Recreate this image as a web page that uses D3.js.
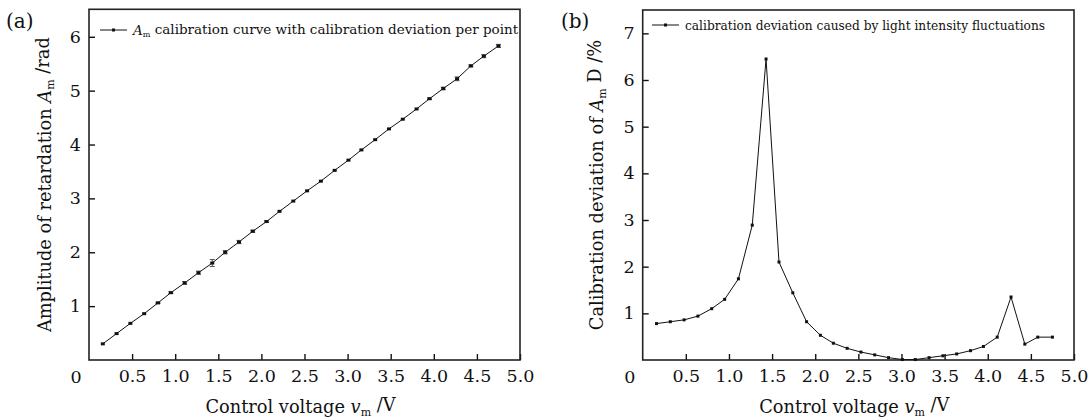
<!DOCTYPE html>
<html>
<head>
<meta charset="utf-8">
<script src="https://cdn.jsdelivr.net/npm/d3@7"></script>
<style>
	body { margin: 0; background: #fff; }
	svg { display: block; }
	text { font-family: "DejaVu Serif", serif; fill: #111; }
</style>
</head>
<body>
<div id="chart"></div>
<script>

// control voltage of each calibration point (V)
const voltage = [0.16, 0.32, 0.48, 0.64, 0.80, 0.95, 1.11, 1.27, 1.43, 1.58,
	1.74, 1.90, 2.06, 2.21, 2.37, 2.53, 2.69, 2.85, 3.01, 3.16,
	3.32, 3.48, 3.64, 3.80, 3.95, 4.11, 4.27, 4.43, 4.58, 4.75];

// (a) amplitude of retardation A_m (rad)
const amplitude = [0.30, 0.49, 0.68, 0.86, 1.06, 1.25, 1.43, 1.62, 1.80, 2.00,
	2.19, 2.39, 2.57, 2.76, 2.95, 3.14, 3.32, 3.52, 3.71, 3.90,
	4.09, 4.29, 4.47, 4.66, 4.85, 5.04, 5.22, 5.46, 5.64, 5.83];

// (a) half height of the error bar on each point (rad)
const amplitudeErr = [0.002, 0.004, 0.006, 0.008, 0.012, 0.016, 0.025, 0.03, 0.065, 0.03,
	0.03, 0.02, 0.014, 0.01, 0.007, 0.005, 0.004, 0.002, 0.0, 0.0,
	0.002, 0.004, 0.006, 0.009, 0.014, 0.025, 0.035, 0.019, 0.028, 0.029];

// (b) calibration deviation D (%)
const deviation = [0.78, 0.82, 0.86, 0.94, 1.10, 1.30, 1.74, 2.89, 6.45, 2.10,
	1.44, 0.82, 0.53, 0.36, 0.25, 0.17, 0.11, 0.05, 0.01, 0.01,
	0.05, 0.09, 0.13, 0.20, 0.29, 0.49, 1.35, 0.34, 0.49, 0.49];

const xTicks = [0.5, 1.0, 1.5, 2.0, 2.5, 3.0, 3.5, 4.0, 4.5, 5.0];
const yTicksA = [1, 2, 3, 4, 5, 6];
const yTicksB = [1, 2, 3, 4, 5, 6, 7];

const ink = "#111";
const tickSize = 17.5, titleSize = 17.8;

let svg = d3.select("#chart").append("svg")
	.attr("width", 1089)
	.attr("height", 419);

// label pieces: [text, style] where style is "", "i" (italic), "sub" or "after" (back from sub)
function richText(sel, parts, subSize) {
	parts.forEach(p => {
		let t = sel.append("tspan").text(p[0]);
		if (p[1] == "i") t.attr("font-style", "italic");
		if (p[1] == "sub") t.attr("font-size", subSize).attr("dy", "0.25em");
		if (p[1] == "after") t.attr("dy", "-0.25em");
	});
}

class PanelVis {

	constructor(cfg) {
		this.cfg = cfg;
		this.initVis();
	}

	initVis() {
		let vis = this, c = vis.cfg;

		vis.g = svg.append("g");

		vis.x = d3.scaleLinear().domain([0, 5]).range([c.left, c.right]);
		vis.y = d3.scaleLinear().domain([0, c.yMax]).range([c.bottom, c.top]);

		vis.xAxis = d3.axisBottom(vis.x)
			.tickValues(xTicks)
			.tickSize(-6)
			.tickPadding(10)
			.tickFormat(d3.format(".1f"));

		vis.yAxis = d3.axisLeft(vis.y)
			.tickValues(c.yTicks)
			.tickSize(-6)
			.tickPadding(8)
			.tickFormat(d3.format("d"));

		let gx = vis.g.append("g")
			.attr("transform", "translate(0," + c.bottom + ")")
			.call(vis.xAxis);
		let gy = vis.g.append("g")
			.attr("transform", "translate(" + c.left + ",0)")
			.call(vis.yAxis);

		[gx, gy].forEach(a => {
			a.select(".domain").remove();
			a.selectAll("line").attr("stroke", ink).attr("stroke-width", 1.4);
			a.selectAll("text")
				.attr("font-family", "DejaVu Serif")
				.attr("font-size", tickSize)
				.attr("fill", ink);
		});

		// shared zero at the corner
		vis.g.append("text")
			.attr("x", c.left - 13)
			.attr("y", c.bottom + 23)
			.attr("text-anchor", "middle")
			.attr("font-size", tickSize)
			.text("0");

		// frame
		vis.g.append("rect")
			.attr("x", c.left)
			.attr("y", c.top)
			.attr("width", c.right - c.left)
			.attr("height", c.bottom - c.top)
			.attr("fill", "none")
			.attr("stroke", "#222")
			.attr("stroke-width", 1.6);

		// axis titles
		let xt = vis.g.append("text")
			.attr("x", (c.left + c.right) / 2 - 4)
			.attr("y", 413)
			.attr("text-anchor", "middle")
			.attr("font-size", titleSize);
		richText(xt, [["Control voltage "], ["v", "i"], ["m", "sub"], [" /V", "after"]], 11);

		let yt = vis.g.append("text")
			.attr("transform", "translate(" + c.yTitleX + "," + ((c.top + c.bottom) / 2) + ") rotate(-90)")
			.attr("text-anchor", "middle")
			.attr("font-size", titleSize);
		richText(yt, c.yTitle, 11);

		// panel tag
		vis.g.append("text")
			.attr("x", c.tagX)
			.attr("y", 28)
			.attr("font-size", 20)
			.text(c.tag);

		vis.wrangleData();
	}

	wrangleData() {
		let vis = this;
		vis.displayData = voltage.map((v, i) => ({
			v: v,
			val: vis.cfg.values[i],
			err: vis.cfg.err ? vis.cfg.err[i] : 0
		}));
		vis.updateVis();
	}

	updateVis() {
		let vis = this, c = vis.cfg;

		let line = d3.line()
			.x(d => vis.x(d.v))
			.y(d => vis.y(d.val));

		vis.g.append("path")
			.datum(vis.displayData)
			.attr("d", line)
			.attr("fill", "none")
			.attr("stroke", ink)
			.attr("stroke-width", 1);

		// error bars
		if (c.err) {
			let eb = vis.g.selectAll(".err")
				.data(vis.displayData.filter(d => d.err > 0.01))
				.enter().append("g")
				.attr("class", "err")
				.attr("stroke", "#555")
				.attr("stroke-width", 1);
			eb.append("line")
				.attr("x1", d => vis.x(d.v)).attr("x2", d => vis.x(d.v))
				.attr("y1", d => vis.y(d.val - d.err)).attr("y2", d => vis.y(d.val + d.err));
			[-1, 1].forEach(s => {
				eb.append("line")
					.attr("x1", d => vis.x(d.v) - 2.5).attr("x2", d => vis.x(d.v) + 2.5)
					.attr("y1", d => vis.y(d.val + s * d.err)).attr("y2", d => vis.y(d.val + s * d.err));
			});
		}

		vis.g.selectAll(".pt")
			.data(vis.displayData)
			.enter().append("rect")
			.attr("class", "pt")
			.attr("x", d => vis.x(d.v) - c.mw / 2)
			.attr("y", d => vis.y(d.val) - 1.5)
			.attr("width", c.mw)
			.attr("height", 3)
			.attr("fill", ink);

		// legend
		let L = c.legend;
		vis.g.append("line")
			.attr("x1", L.x).attr("x2", L.x + 27)
			.attr("y1", L.y).attr("y2", L.y)
			.attr("stroke", ink).attr("stroke-width", 1);
		vis.g.append("rect")
			.attr("x", L.x + 13.5 - 1.5).attr("y", L.y - 1.5)
			.attr("width", 3).attr("height", 3)
			.attr("fill", ink);
		let lt = vis.g.append("text")
			.attr("x", L.x + 33)
			.attr("y", L.y + 5)
			.attr("font-size", L.size);
		richText(lt, L.parts, L.size * 0.6);
	}
}

new PanelVis({
	left: 89, right: 520, top: 9.3, bottom: 360, yMax: 6.51,
	yTicks: yTicksA, values: amplitude, err: amplitudeErr, mw: 4,
	yTitleX: 51, tag: "(a)", tagX: 6,
	yTitle: [["Amplitude of retardation "], ["A", "i"], ["m", "sub"], [" /rad", "after"]],
	legend: { x: 100, y: 30, size: 13.5,
		parts: [["A", "i"], ["m", "sub"], [" calibration curve with calibration deviation per point", "after"]] }
});

new PanelVis({
	left: 642.7, right: 1074, top: 10, bottom: 360, yMax: 7.5,
	yTicks: yTicksB, values: deviation, err: null, mw: 3,
	yTitleX: 603, tag: "(b)", tagX: 561,
	yTitle: [["Calibration deviation of "], ["A", "i"], ["m", "sub"], [" D /%", "after"]],
	legend: { x: 652, y: 25, size: 12.2,
		parts: [["calibration deviation caused by light intensity fluctuations"]] }
});

</script>
</body>
</html>
